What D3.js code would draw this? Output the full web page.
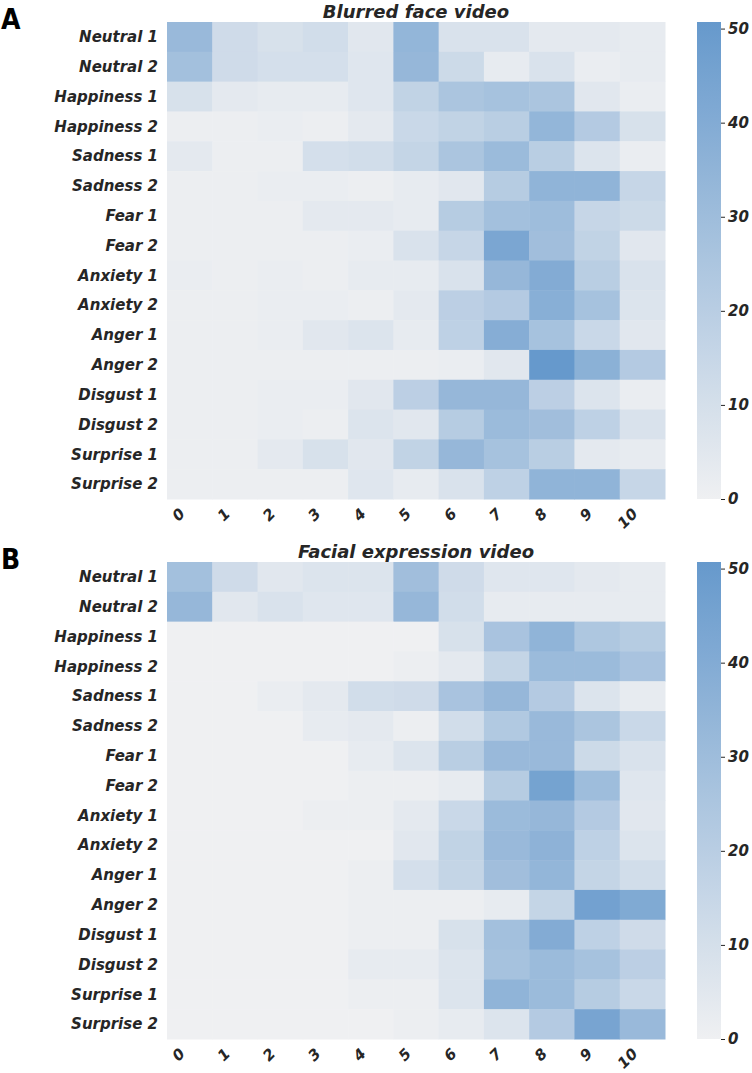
<!DOCTYPE html>
<html><head><meta charset="utf-8">
<script src="https://cdn.jsdelivr.net/npm/d3@7"></script>
<style>body{margin:0;background:#fff}svg{display:block}</style>
</head><body>
<svg id="chart" width="752" height="1073"></svg>
<script>
const rowLabels = ["Neutral 1","Neutral 2","Happiness 1","Happiness 2","Sadness 1","Sadness 2","Fear 1","Fear 2","Anxiety 1","Anxiety 2","Anger 1","Anger 2","Disgust 1","Disgust 2","Surprise 1","Surprise 2"];
const colLabels = ["0","1","2","3","4","5","6","7","8","9","10"];
const colorTicks = [0,10,20,30,40,50];
const titles = ["Blurred face video","Facial expression video"];
const panelLetters = ["A","B"];

const blurred = [
 [32,12,9,11,5,34,8,8,4,4,3],
 [28,12,10,10,6,33,13,3,8,2,3],
 [9,4,3,3,6,17,25,27,25,5,2],
 [1,1,2,1,4,14,17,20,34,22,9],
 [4,1,1,10,11,16,25,31,20,7,2],
 [1,1,2,2,1,3,5,21,35,35,15],
 [1,1,1,4,4,3,21,28,30,15,13],
 [1,1,1,1,2,8,15,43,29,17,5],
 [2,1,2,1,3,3,8,33,40,20,8],
 [1,1,2,2,1,4,19,22,38,27,7],
 [1,1,2,5,7,3,18,39,27,14,5],
 [1,1,1,1,1,1,2,5,50.7,37,22],
 [1,1,2,2,5,19,33,33,19,7,2],
 [1,1,2,1,7,5,21,31,29,18,8],
 [1,1,4,9,5,17,33,27,20,4,3],
 [1,1,1,1,6,3,8,18,35,35,15]
];
const facial = [
 [28,12,5,7,7,29,12,6,6,4,3],
 [33,5,8,6,6,33,11,3,3,3,3],
 [0,0,0,0,0,0,9,26,35,24,21],
 [0,0,0,0,0,1,4,16,31,31,26],
 [0,0,2,4,11,12,26,33,22,7,3],
 [0,0,0,3,4,1,11,23,32,25,14],
 [0,0,0,0,3,7,20,32,32,13,8],
 [0,0,0,0,1,1,3,21,45,30,6],
 [0,0,0,1,1,4,14,31,33,22,5],
 [0,0,0,0,0,5,17,32,36,18,7],
 [0,0,0,0,1,10,16,29,34,16,11],
 [0,0,0,0,1,1,1,3,16,46,41],
 [0,0,0,0,1,1,9,28,40,18,12],
 [0,0,0,0,3,3,7,27,31,27,19],
 [0,0,0,0,1,1,7,35,31,21,14],
 [0,0,0,0,0,1,3,7,22,44,32]
];
const datasets = [blurred, facial];

const vmin = 0, vmax = 50.7;
const color = d3.scaleLinear().domain([vmin, vmax]).range(["#eff0f2", "#6699cc"]).interpolate(d3.interpolateRgb);

const svg = d3.select("#chart");
const font = "'DejaVu Sans', sans-serif";
const textColor = "#262626";
const left = 167, right = 665, hmH = 477;
const tops = [22, 562];
const cbX = 697, cbW = 24;

const defs = svg.append("defs");
const grad = defs.append("linearGradient").attr("id","cbgrad").attr("x1",0).attr("y1",1).attr("x2",0).attr("y2",0);
d3.range(0, 1.0001, 0.1).forEach(t => grad.append("stop").attr("offset", t).attr("stop-color", color(vmin + t*(vmax-vmin))));

datasets.forEach((data, p) => {
  const top = tops[p];
  const x = d3.scaleBand().domain(colLabels).range([left, right]);
  const y = d3.scaleBand().domain(rowLabels).range([top, top + hmH]);
  const g = svg.append("g");
  data.forEach((row, i) => {
    g.selectAll(null).data(row).enter().append("rect")
      .attr("x", (d, j) => x(colLabels[j]))
      .attr("y", y(rowLabels[i]))
      .attr("width", x.bandwidth() + 0.5)
      .attr("height", y.bandwidth() + 0.5)
      .attr("fill", d => color(d));
  });
  // y labels
  g.selectAll(null).data(rowLabels).enter().append("text")
    .attr("x", left - 9).attr("y", d => y(d) + y.bandwidth()/2)
    .attr("dy", "0.35em").attr("text-anchor", "end")
    .attr("font-family", font).attr("font-size", 15).attr("font-weight", "bold").attr("font-style", "italic")
    .attr("fill", textColor).text(d => d);
  // x labels rotated 45
  colLabels.forEach(c => {
    const t = g.append("text").attr("font-family", font).attr("font-size", 15)
      .attr("font-weight", "bold").attr("font-style", "italic").attr("fill", textColor)
      .attr("text-anchor", "middle").attr("dy", "0.35em").text(c);
    const w = t.node().getComputedTextLength();
    const h = 14;
    const half = (w + h) * 0.3536;
    const cx = x(c) + x.bandwidth()/2 - 2.5 - half;
    const cy = top + hmH + 7 + half;
    t.attr("x", cx).attr("y", cy).attr("transform", `rotate(-45,${cx},${cy})`);
  });
  // title
  svg.append("text").attr("x", (left + right)/2).attr("y", top - 4)
    .attr("text-anchor", "middle").attr("font-family", font).attr("font-size", 18)
    .attr("font-weight", "bold").attr("font-style", "italic").attr("fill", textColor).text(titles[p]);
  // panel letter
  svg.append("text").attr("x", 1).attr("y", top + 7)
    .attr("font-family", "'DejaVu Sans Condensed','DejaVu Sans',sans-serif").attr("font-stretch","condensed")
    .attr("font-size", 28).attr("font-weight", "bold").attr("fill", "#000").text(panelLetters[p]);
  // colorbar
  svg.append("rect").attr("x", cbX).attr("y", top).attr("width", cbW).attr("height", hmH).attr("fill", "url(#cbgrad)");
  const cy = d3.scaleLinear().domain([vmin, vmax]).range([top + hmH, top]);
  const axis = d3.axisRight(cy).tickValues(colorTicks).tickSize(4).tickPadding(3);
  const ag = svg.append("g").attr("transform", `translate(${cbX + cbW},0)`).call(axis);
  ag.select(".domain").remove();
  ag.selectAll("line").attr("stroke", textColor).attr("stroke-width", 1);
  ag.selectAll("text").attr("font-family", font).attr("font-size", 15).attr("font-weight", "bold")
    .attr("font-style", "italic").attr("fill", textColor);
});
</script>
</body></html>
